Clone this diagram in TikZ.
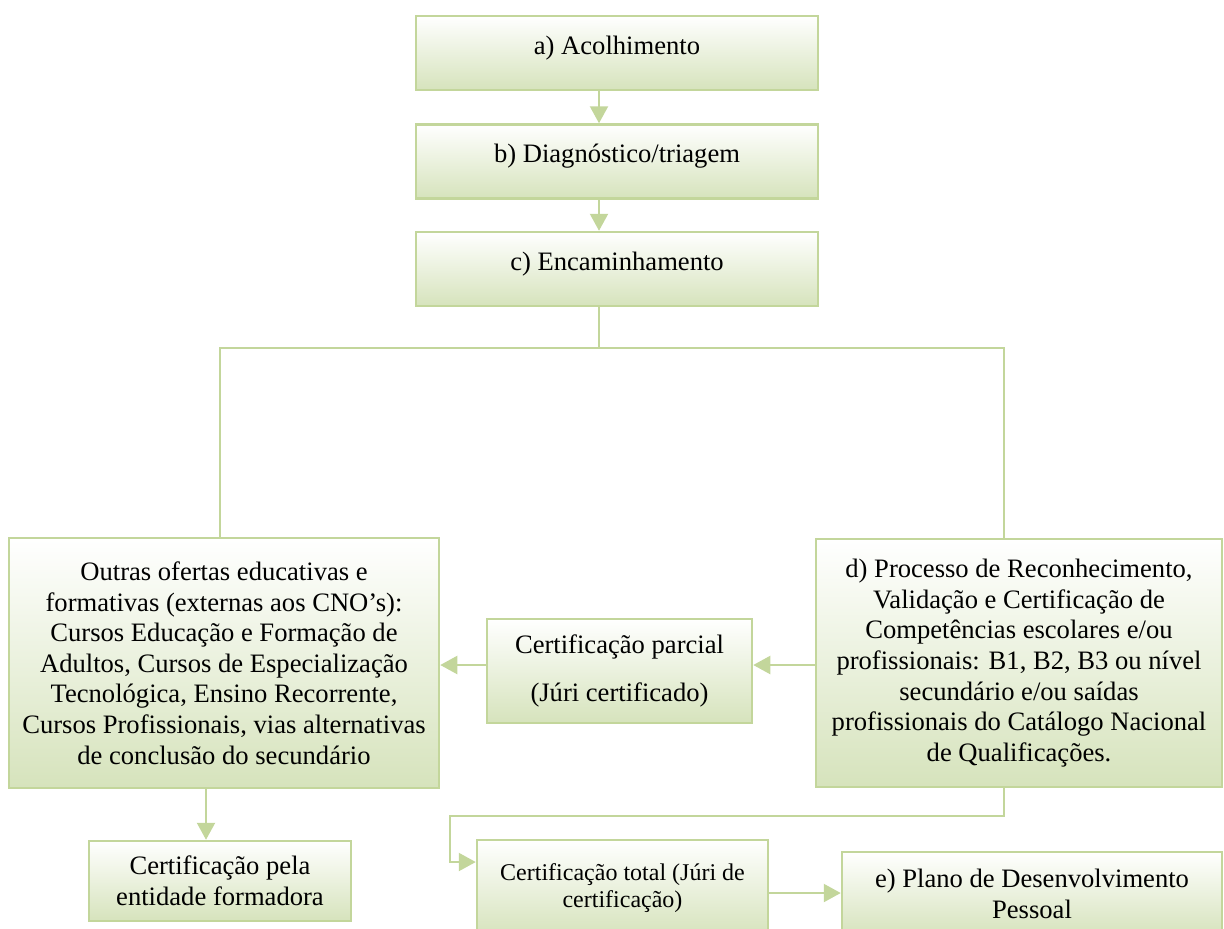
\documentclass[tikz,border=0pt]{standalone}
\usepackage{fontspec}
\setmainfont{Liberation Serif}
\usetikzlibrary{arrows.meta}
\definecolor{boxline}{RGB}{195,214,155}
\definecolor{boxfill}{RGB}{214,227,188}

\begin{document}
\begin{tikzpicture}[x=0.5pt, y=-0.5pt,
  box/.style={draw=boxline, line width=1.25pt, top color=white, bottom color=boxfill,
    align=center, inner sep=0pt, font=\fontsize{13.3}{15.3}\selectfont},
  topbox/.style={box, minimum width=201pt, minimum height=37pt, text height=9.5pt, text depth=8.5pt},
  link/.style={draw=boxline, line width=1.1pt},
  arr/.style={link, -{Triangle[length=8.5pt,width=9pt]}}]
\clip (0,0) rectangle (1224,928);

% boxes
\node[topbox] (acolh) at (617,53) {a) Acolhimento};
\node[topbox] (diag) at (617,161.5) {b) Diagnóstico/triagem};
\node[topbox] (encam) at (617,269) {c) Encaminhamento};
\node[box, minimum width=215pt, minimum height=125pt] (outras) at (224,663)
  {Outras ofertas educativas e\\ formativas (externas aos CNO’s):\\ Cursos Educação e Formação de\\
   Adultos, Cursos de Especialização\\ Tecnológica, Ensino Recorrente,\\
   Cursos Profissionais, vias alternativas\\ de conclusão do secundário};
\node[box, minimum width=203pt, minimum height=124pt] (rvcc) at (1019,663)
  {d) Processo de Reconhecimento,\\ Validação e Certificação de\\ Competências escolares e/ou\\
   profissionais: B1, B2, B3 ou nível\\ secundário e/ou saídas\\
   profissionais do Catálogo Nacional\\ de Qualificações.};
\node[box, minimum width=132.5pt, minimum height=52pt, font=\fontsize{13.3}{24}\selectfont] (parcial) at (619.5,671)
  {Certificação parcial\\ (Júri certificado)};
\node[box, minimum width=131pt, minimum height=40pt] (pela) at (220,881)
  {Certificação pela\\ entidade formadora};
\node[box, minimum width=145.5pt, minimum height=48pt, font=\fontsize{12}{13.5}\selectfont] (total) at (622.5,888)
  {Certificação total (Júri de\\ certificação)};
\node[box, minimum width=190pt, minimum height=42pt] (plano) at (1032,894)
  {e) Plano de Desenvolvimento\\ Pessoal};

% connectors
\coordinate (spine) at (599,348);
\coordinate (leftx) at (220,348);
\coordinate (rightx) at (1004,348);
\coordinate (midy) at (0,665);
\coordinate (turn) at (450,816);
\draw[arr] (acolh.south -| spine) -- (diag.north -| spine);
\draw[arr] (diag.south -| spine) -- (encam.north -| spine);
\draw[link] (encam.south -| spine) -- (spine);
\draw[link] (outras.north -| leftx) -- (leftx) -- (rightx) -- (rvcc.north -| rightx);
\draw[arr] (rvcc.west |- midy) -- (parcial.east |- midy);
\draw[arr] (parcial.west |- midy) -- (outras.east |- midy);
\draw[arr] (outras.south -| 206,0) -- (pela.north -| 206,0);
\draw[arr] (rvcc.south -| rightx) |- (turn) |- (total.west |- 0,862);
\draw[arr] (total.east |- 0,893) -- (plano.west |- 0,893);
\end{tikzpicture}
\end{document}
